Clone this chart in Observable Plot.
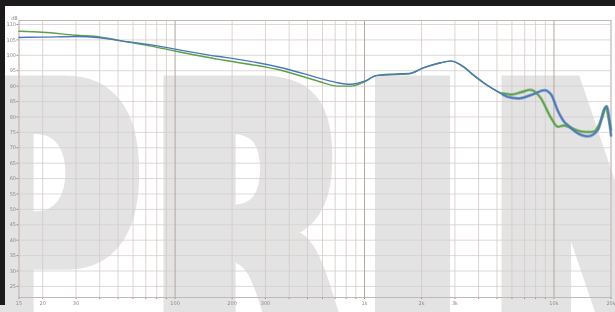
<!DOCTYPE html>
<html><head><meta charset="utf-8">
<script src="https://cdn.jsdelivr.net/npm/d3@7"></script>
<script src="https://cdn.jsdelivr.net/npm/@observablehq/plot@0.6"></script>
<style>
html,body{margin:0;padding:0;background:#fff;}
#wrap{position:relative;width:615px;height:312px;overflow:hidden;background:#fff;}
#wm{position:absolute;left:0;top:0;}
#chart{position:absolute;left:0;top:0;}
.bar{position:absolute;background:#1c1a1b;}
</style></head><body>
<div id="wrap">
<svg id="wm" width="615" height="312">
  <defs><filter id="fat" x="-30%" y="-10%" width="160%" height="120%"><feMorphology operator="dilate" radius="12 2"/></filter></defs>
  <g fill="#e3e3e3" font-family="DejaVu Sans" font-weight="bold" font-size="400" filter="url(#fat)">
    <text transform="translate(-50,369) scale(0.64,1)">P</text>
    <text transform="translate(152,369) scale(0.64,1)">R</text>
    <text transform="translate(362,369) scale(0.68,1)">I</text>
    <text transform="translate(490,369) scale(0.64,1)">N</text>
  </g>
</svg>
<div id="chart"></div>
<div class="bar" style="left:0;top:0;width:615px;height:6px"></div>
<div class="bar" style="left:0;top:0;width:5px;height:305px"></div>
</div>
<script>
// Frequency response, two measurements (green, blue)
const freqGreen = [15,20,30,40,52,75,100,170,200,375,570,720,850,1000,1160,1550,1720,2060,2530,2860,3300,3700,4650,5400,6000,6700,7500,8500,9650,10500,11300,11900,13900,15300,16300,17300,18000,18800,19500,20000];
const dbGreen = [107.8,107.5,106.5,106.0,104.7,103.0,101.4,98.7,98.0,94.9,91.6,90.0,90.0,91.4,93.4,93.8,94.0,96.0,97.6,98.1,96.4,93.8,89.5,87.6,87.3,88.0,88.8,86.2,79.7,76.8,77.2,76.8,75.3,75.1,75.3,77.5,80.0,83.2,79.0,75.9];
const freqBlue = [15,20,30,40,52,75,100,170,200,375,570,720,850,1000,1160,1550,1720,2060,2530,2860,3300,3700,4650,5400,5700,6500,7850,8900,9650,10500,11300,12000,13200,15100,17100,18400,19000,19600,20000];
const dbBlue = [105.8,105.9,106.1,105.7,104.7,103.4,102.0,99.6,99.0,95.8,92.7,91.1,90.6,91.6,93.5,94.0,94.1,96.0,97.6,98.1,96.5,94.0,89.5,87.2,86.5,86.0,87.5,88.7,87.3,81.9,78.5,77.0,74.9,73.7,75.9,82.4,83.5,79.0,74.0];

const xTicks = [15,20,30,40,50,60,70,80,90,100,200,300,400,500,600,700,800,900,1000,2000,3000,4000,5000,6000,7000,8000,9000,10000,20000];
const xTickLabels = ["15","20","30","40","50","60","70","80","90","100","200","300","400","500","600","700","800","900","1k","2k","3k","4k","5k","6k","7k","8k","9k","10k","20k"];
const majorX = [100,1000,10000];
const yTicks = [25,30,35,40,45,50,55,60,65,70,75,80,85,90,95,100,105,110];
const yUnit = "dB";

const green = freqGreen.map((f,i)=>({f, db: dbGreen[i]}));
const blue = freqBlue.map((f,i)=>({f, db: dbBlue[i]}));
const labelOf = new Map(xTicks.map((t,i)=>[t, xTickLabels[i]]));

const chart = Plot.plot({
  width: 615, height: 312,
  marginLeft: 18.5, marginRight: 4.5, marginTop: 20, marginBottom: 15,
  style: {background: "transparent", fontFamily: "DejaVu Sans", fontSize: "5px", color: "#8c8c8c"},
  x: {type: "log", domain: [15, 20000], ticks: xTicks, tickFormat: d => labelOf.get(d), tickSize: 2, tickPadding: 1.5, label: null},
  y: {domain: [21.4, 111.3], ticks: yTicks, tickSize: 2, tickPadding: 1, label: null},
  marks: [
    Plot.ruleY(yTicks, {y: d => d, stroke: "#d6cfcc", strokeWidth: 0.8}),
    Plot.ruleX(xTicks.filter(d => !majorX.includes(d)), {x: d => d, stroke: "#d3c9c6", strokeWidth: 0.8}),
    Plot.ruleX(majorX, {x: d => d, stroke: "#b3a6a2", strokeWidth: 1}),
    Plot.frame({stroke: "#c4b8b4"}),
    Plot.line(green.filter(d => d.f >= 5000), {x: "f", y: "db", stroke: "#4f9a3f", strokeWidth: 3, strokeOpacity: 0.5, curve: "monotone-x"}),
    Plot.line(blue.filter(d => d.f >= 5000), {x: "f", y: "db", stroke: "#2f63b0", strokeWidth: 3, strokeOpacity: 0.5, curve: "monotone-x"}),
    Plot.line(green, {x: "f", y: "db", stroke: "#5ba04a", strokeWidth: 1.4, curve: "monotone-x"}),
    Plot.line(blue, {x: "f", y: "db", stroke: "#4a78bb", strokeWidth: 1.4, curve: "monotone-x"}),
    Plot.text([yUnit], {frameAnchor: "top-left", dx: -8, dy: -4, text: d => d, fill: "#8c8c8c", fontSize: 5})
  ]
});
document.getElementById("chart").appendChild(chart);
</script>
</body></html>
